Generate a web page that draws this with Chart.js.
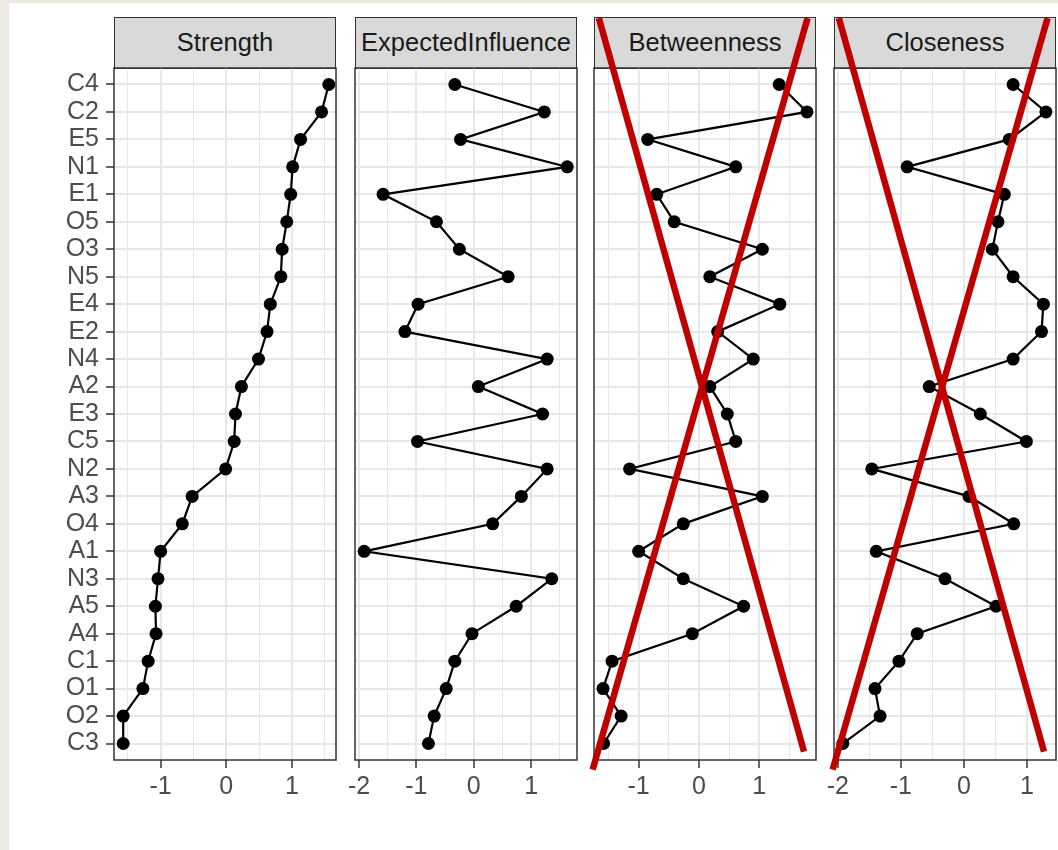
<!DOCTYPE html>
<html>
<head>
<meta charset="utf-8">
<title>Centrality plot</title>
<script src="https://cdn.jsdelivr.net/npm/chart.js@4.4.1/dist/chart.umd.min.js"></script>
<style>
  html, body { margin: 0; padding: 0; }
  body {
    width: 1058px; height: 850px; overflow: hidden; position: relative;
    background: #ece9e1;
    font-family: 'Liberation Sans', Arial, sans-serif;
  }
  #sheet { position: absolute; left: 9px; top: 3px; right: 0; bottom: 0; background: #fff; }
  .strip {
    position: absolute; box-sizing: border-box;
    background: #d9d9d9; border: 1.5px solid #333;
    color: #1a1a1a; font-size: 25.5px; text-align: center; line-height: 48px;
    white-space: nowrap; overflow: hidden;
  }
  canvas { position: absolute; }
</style>
</head>
<body>
<div id="sheet"></div>

<script>
// --- Data ---
const nodes = ['C4', 'C2', 'E5', 'N1', 'E1', 'O5', 'O3', 'N5', 'E4', 'E2', 'N4', 'A2', 'E3',
               'C5', 'N2', 'A3', 'O4', 'A1', 'N3', 'A5', 'A4', 'C1', 'O1', 'O2', 'C3'];

const strength = [1.56, 1.45, 1.13, 1.01, 0.98, 0.92, 0.85, 0.83, 0.67, 0.62, 0.49, 0.23, 0.14,
                  0.12, -0.01, -0.52, -0.67, -1.00, -1.04, -1.08, -1.07, -1.19, -1.27, -1.57, -1.57];

const expectedInfluence = [-0.33, 1.23, -0.23, 1.63, -1.58, -0.65, -0.25, 0.60, -0.97, -1.20, 1.28, 0.08, 1.20,
                           -0.98, 1.28, 0.83, 0.33, -1.91, 1.36, 0.74, -0.03, -0.33, -0.48, -0.69, -0.79];

const betweenness = [1.33, 1.79, -0.85, 0.61, -0.70, -0.41, 1.05, 0.18, 1.34, 0.31, 0.90, 0.18, 0.47,
                     0.61, -1.15, 1.05, -0.26, -1.00, -0.26, 0.74, -0.11, -1.44, -1.59, -1.29, -1.58];

const closeness = [0.78, 1.30, 0.72, -0.90, 0.64, 0.54, 0.45, 0.78, 1.26, 1.23, 0.78, -0.55, 0.26,
                   0.99, -1.46, 0.08, 0.79, -1.39, -0.30, 0.51, -0.74, -1.03, -1.41, -1.33, -1.92];

const panelTitles = ['Strength', 'ExpectedInfluence', 'Betweenness', 'Closeness'];
const panelSeries = [strength, expectedInfluence, betweenness, closeness];
const crossedOut = [false, false, true, true];

// --- Layout ---
const STRIP_TOP = 17;
const STRIP_H = 51;
const PANEL_H = 692;
const PANEL_W = 222;
const X_AXIS_H = 60;
const Y_AXIS_W = 105;
const panelLefts = [114, 355, 594, 834];
const xLimits = [[-1.71, 1.67], [-2.07, 1.80], [-1.74, 1.94], [-2.06, 1.46]];

Chart.defaults.font.family = "'Liberation Sans', Arial, sans-serif";
Chart.defaults.font.size = 25;
Chart.defaults.color = '#4d4d4d';

const isWhole = v => Math.abs(v - Math.round(v)) < 1e-6;

// border around the panel + red cross on top
const panelFrame = {
    id: 'panelFrame',
    afterDatasetsDraw(chart) {
        const { ctx, chartArea: a } = chart;
        ctx.save();
        ctx.strokeStyle = '#333';
        ctx.lineWidth = 1.5;
        ctx.strokeRect(a.left, a.top, a.right - a.left, a.bottom - a.top);
        ctx.restore();
    },
    afterDraw(chart, args, opts) {
        if (!opts.cross) return;
        const { ctx, chartArea: a } = chart;
        const w = a.right - a.left, h = a.bottom - a.top;
        const strokes = [[0.022, -0.072, 0.946, 0.988], [0.962, -0.072, -0.006, 1.014]];
        ctx.save();
        ctx.strokeStyle = '#c00000';
        ctx.lineWidth = 6.5;
        ctx.lineCap = 'butt';
        strokes.forEach(s => {
            ctx.beginPath();
            ctx.moveTo(a.left + s[0] * w, a.top + s[1] * h);
            ctx.lineTo(a.left + s[2] * w, a.top + s[3] * h);
            ctx.stroke();
        });
        ctx.restore();
    }
};

function makePanel(i) {
    const left = panelLefts[i];
    const yW = i === 0 ? Y_AXIS_W : 0;
    const padL = i === 0 ? 0 : 14;
    const padR = 14;

    // strip header
    const strip = document.createElement('div');
    strip.className = 'strip';
    strip.style.left = left + 'px';
    strip.style.top = STRIP_TOP + 'px';
    strip.style.width = PANEL_W + 'px';
    strip.style.height = STRIP_H + 1 + 'px';
    strip.textContent = panelTitles[i];
    document.body.appendChild(strip);

    const canvas = document.createElement('canvas');
    const cw = yW + padL + PANEL_W + padR;
    const ch = STRIP_H + PANEL_H + X_AXIS_H;
    canvas.width = cw;
    canvas.height = ch;
    canvas.style.left = (left - yW - padL) + 'px';
    canvas.style.top = STRIP_TOP + 'px';
    canvas.style.width = cw + 'px';
    canvas.style.height = ch + 'px';
    document.body.appendChild(canvas);

    new Chart(canvas, {
        type: 'scatter',
        data: {
            datasets: [{
                data: panelSeries[i].map((v, k) => ({ x: v, y: k })),
                showLine: true,
                borderColor: '#000',
                borderWidth: 2.2,
                backgroundColor: '#000',
                pointRadius: 6.5,
                pointHoverRadius: 6.5,
                pointBorderWidth: 0
            }]
        },
        options: {
            responsive: false,
            animation: false,
            events: [],
            layout: { padding: { top: STRIP_H, left: padL, right: padR, bottom: 0 } },
            plugins: {
                legend: { display: false },
                tooltip: { enabled: false },
                panelFrame: { cross: crossedOut[i] }
            },
            scales: {
                x: {
                    type: 'linear',
                    min: xLimits[i][0],
                    max: xLimits[i][1],
                    afterFit: s => { s.height = X_AXIS_H; },
                    border: { display: false },
                    grid: {
                        color: '#e8e8e8',
                        lineWidth: c => isWhole(c.tick.value) ? 2 : 1,
                        tickLength: 8,
                        tickWidth: 1.5,
                        tickColor: c => isWhole(c.tick.value) ? '#333' : 'rgba(0,0,0,0)'
                    },
                    ticks: {
                        stepSize: 0.5,
                        includeBounds: false,
                        autoSkip: false,
                        maxRotation: 0,
                        padding: 4,
                        callback: v => isWhole(v) ? String(Math.round(v)) : ''
                    }
                },
                y: {
                    type: 'linear',
                    reverse: true,
                    min: -0.6,
                    max: nodes.length - 0.4,
                    afterFit: s => { s.width = yW; },
                    border: { display: false },
                    grid: {
                        color: '#e8e8e8',
                        lineWidth: 2,
                        drawTicks: i === 0,
                        tickLength: 8,
                        tickWidth: 1.5,
                        tickColor: '#333'
                    },
                    ticks: {
                        display: i === 0,
                        stepSize: 1,
                        maxTicksLimit: 100,
                        includeBounds: false,
                        autoSkip: false,
                        padding: 7,
                        callback: v => nodes[v]
                    }
                }
            }
        },
        plugins: [panelFrame]
    });
}

panelTitles.forEach((_, i) => makePanel(i));
</script>
</body>
</html>
